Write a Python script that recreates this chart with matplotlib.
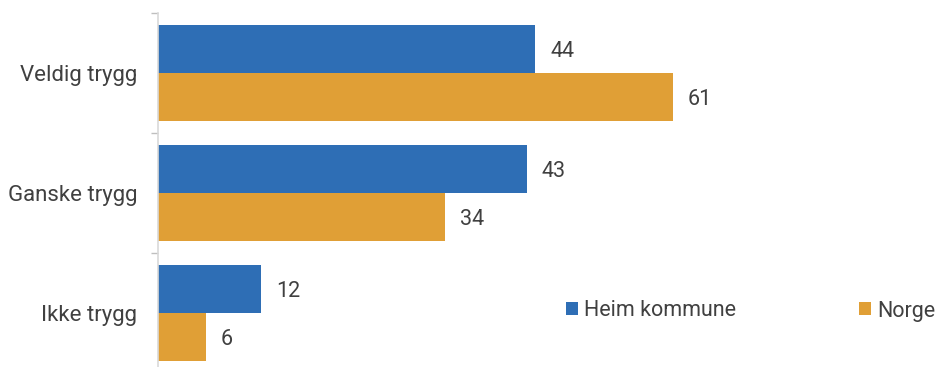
import matplotlib
matplotlib.use("Agg")
import matplotlib.pyplot as plt
import numpy as np

categories = ["Veldig trygg", "Ganske trygg", "Ikke trygg"]
series_names = ["Heim kommune", "Norge"]
heim = [44.4, 43.4, 12.1]
norge = [60.6, 33.8, 5.6]
colors = ["#2E6EB5", "#E09F36"]

plt.rcParams['font.family'] = ['Roboto', 'DejaVu Sans']
txt = "#404040"

W, H = 937, 367
fig = plt.figure(figsize=(W / 100, H / 100), dpi=100)
left, right = 158, 923
top, bottom = 13, 373
ax = fig.add_axes([left / W, 1 - bottom / H, (right - left) / W, (bottom - top) / H])

y = np.arange(len(categories))
h = 0.4
b1 = ax.barh(y - h / 2, heim, height=h, color=colors[0], label=series_names[0])
b2 = ax.barh(y + h / 2, norge, height=h, color=colors[1], label=series_names[1])

for bars, vals in ((b1, heim), (b2, norge)):
    for rect, v in zip(bars, vals):
        ax.annotate(f"{v:.0f}", (rect.get_width(), rect.get_y() + rect.get_height() / 2),
                    xytext=(15, 0), textcoords="offset pixels", va="center_baseline", ha="left",
                    fontsize=15.5, color=txt)

ax.set_xlim(0, (right - left) / 8.5)
ax.set_ylim(2.5, -0.5)
ax.set_yticks(y)
ax.set_yticklabels(categories, fontsize=16, color=txt)
ax.set_yticks([-0.5, 0.5, 1.5, 2.5], minor=True)
ax.tick_params(axis="y", which="major", length=0, pad=15)
ax.tick_params(axis="y", which="minor", length=5, color="#BFBFBF", width=1)
ax.set_xticks([])
for s in ("top", "right", "bottom"):
    ax.spines[s].set_visible(False)
ax.spines["left"].set_color("#D9D9D9")
ax.spines["left"].set_linewidth(1.2)

leg = ax.legend(loc="center left", bbox_to_anchor=((566 - left) / (right - left), 1 - (311 - top) / (bottom - top)),
                ncol=2, frameon=False, fontsize=15.5, handlelength=0.55, handleheight=0.55,
                handletextpad=0.3, columnspacing=5.7, borderaxespad=0, borderpad=0)
for t in leg.get_texts():
    t.set_color(txt)

fig.savefig("out.png", dpi=100)
